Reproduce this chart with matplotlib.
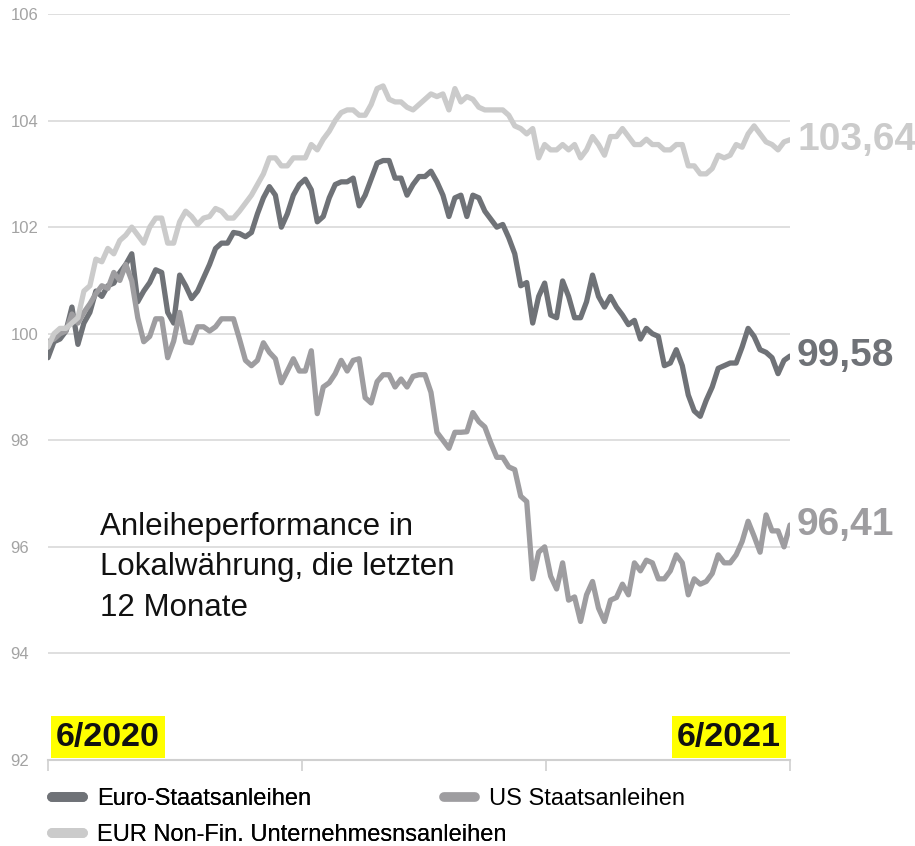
import matplotlib
matplotlib.use("Agg")
import matplotlib.pyplot as plt
from matplotlib.lines import Line2D
import numpy as np

plt.rcParams['font.family'] = ['Liberation Sans', 'DejaVu Sans']

# index performance, one value roughly every 3 days, 6/2020 .. 6/2021
euro_staat = [
    99.55, 99.85, 99.9, 100.05, 100.5, 99.8, 100.2, 100.4, 100.8, 100.7,
    100.9, 100.95, 101.15, 101.3, 101.5, 100.6, 100.8, 100.96, 101.2, 101.15,
    100.4, 100.2, 101.1, 100.9, 100.66, 100.8, 101.05, 101.3, 101.6, 101.7,
    101.7, 101.9, 101.88, 101.82, 101.9, 102.25, 102.55, 102.76, 102.6, 102.0,
    102.25, 102.6, 102.8,
    102.9, 102.7, 102.1, 102.2, 102.55, 102.8, 102.85, 102.85, 102.92, 102.4,
    102.6, 102.9, 103.2, 103.25, 103.25, 102.92, 102.92, 102.6, 102.8, 102.95,
    102.95, 103.05, 102.85, 102.6, 102.2, 102.55, 102.6, 102.2, 102.6, 102.55,
    102.3, 102.15, 102.0, 102.05, 101.8, 101.5, 100.9, 100.96, 100.2, 100.7,
    100.95, 100.35,
    100.3, 100.99, 100.7, 100.3, 100.3, 100.6, 101.1, 100.7, 100.5, 100.7,
    100.5, 100.35, 100.17, 100.25, 99.9, 100.1, 100.0, 99.95, 99.4, 99.45,
    99.7, 99.4, 98.85, 98.55, 98.45, 98.75, 99.0, 99.35, 99.4, 99.45,
    99.45, 99.75, 100.1, 99.95, 99.7, 99.65, 99.55, 99.25, 99.5, 99.58,
]

us_staat = [
    99.85, 99.9, 100.0, 100.05, 100.37, 100.2, 100.4, 100.56, 100.75, 100.9,
    100.85, 101.15, 101.0, 101.3, 100.99, 100.3, 99.85, 99.95, 100.28, 100.28,
    99.55, 99.86, 100.4, 99.85, 99.83, 100.13, 100.13, 100.05, 100.13, 100.28,
    100.28, 100.28, 99.9, 99.5, 99.4, 99.5, 99.83, 99.65, 99.53, 99.08,
    99.3, 99.53, 99.3,
    99.3, 99.68, 98.5, 99.0, 99.08, 99.25, 99.5, 99.3, 99.5, 99.53,
    98.8, 98.7, 99.1, 99.23, 99.23, 99.0, 99.15, 99.0, 99.2, 99.23,
    99.23, 98.9, 98.15, 98.0, 97.85, 98.15, 98.15, 98.16, 98.52, 98.35,
    98.25, 97.95, 97.68, 97.68, 97.5, 97.45, 96.95, 96.85, 95.4, 95.9,
    96.0, 95.45,
    95.21, 95.7, 95.0, 95.06, 94.6, 95.1, 95.35, 94.85, 94.6, 95.0,
    95.05, 95.3, 95.1, 95.7, 95.55, 95.75, 95.7, 95.4, 95.4, 95.55,
    95.85, 95.7, 95.1, 95.4, 95.3, 95.35, 95.5, 95.85, 95.7, 95.7,
    95.85, 96.1, 96.48, 96.2, 95.9, 96.6, 96.3, 96.3, 96.0, 96.41,
]

eur_nonfin = [
    99.75, 100.0, 100.1, 100.1, 100.2, 100.3, 100.8, 100.9, 101.4, 101.35,
    101.6, 101.5, 101.75, 101.85, 102.0, 101.85, 101.7, 102.0, 102.17, 102.17,
    101.7, 101.7, 102.1, 102.3, 102.2, 102.05, 102.17, 102.2, 102.35, 102.3,
    102.17, 102.17, 102.3, 102.45, 102.6, 102.8, 103.0, 103.3, 103.3, 103.15,
    103.15, 103.3, 103.3,
    103.3, 103.55, 103.45, 103.65, 103.8, 104.0, 104.15, 104.2, 104.2, 104.1,
    104.1, 104.3, 104.6, 104.65, 104.4, 104.35, 104.35, 104.25, 104.2, 104.3,
    104.4, 104.5, 104.45, 104.5, 104.2, 104.6, 104.35, 104.45, 104.4, 104.25,
    104.2, 104.2, 104.2, 104.2, 104.1, 103.9, 103.85, 103.75, 103.85, 103.3,
    103.55, 103.45,
    103.45, 103.55, 103.45, 103.55, 103.3, 103.45, 103.7, 103.55, 103.35, 103.7,
    103.7, 103.85, 103.7, 103.55, 103.55, 103.65, 103.55, 103.55, 103.45, 103.45,
    103.55, 103.55, 103.15, 103.15, 103.0, 103.0, 103.1, 103.35, 103.3, 103.35,
    103.55, 103.5, 103.75, 103.9, 103.75, 103.6, 103.55, 103.45, 103.6, 103.64,
]

labels = ['Euro-Staatsanleihen', 'US Staatsanleihen', 'EUR Non-Fin. Unternehmesnsanleihen']
colors = ['#6f7277', '#9e9da0', '#cbcbcb']
start_label, end_label = '6/2020', '6/2021'
x_ticks = [0, 42.4, 83.2, 124]   # quarter-ish ticks on the time axis
y_ticks = list(range(92, 107, 2))

W, H = 915, 846
fig = plt.figure(figsize=(W / 100, H / 100), dpi=100)
ax = fig.add_axes([48 / W, 1 - 760 / H, 742 / W, 746 / H])

x = np.arange(len(euro_staat))
series = [euro_staat, us_staat, eur_nonfin]
for vals, c, lab in zip(series, colors, labels):
    ax.plot(x, vals, color=c, lw=3.8, solid_joinstyle='round', solid_capstyle='round', label=lab, zorder=3)
    ax.annotate(f'{vals[-1]:.2f}'.replace('.', ','), xy=(x[-1], vals[-1]), xytext=(7, 0),
                textcoords='offset pixels', va='center', ha='left', fontsize=28,
                fontweight='bold', color=c, annotation_clip=False)

ax.set_xlim(0, 124)
ax.set_ylim(92, 106)
ax.set_yticks(y_ticks)
ax.set_xticks(x_ticks)
ax.set_xticklabels([])
ax.yaxis.grid(True, color='#d6d6d6', lw=1.1, zorder=0)
for s in ['left', 'right', 'top']:
    ax.spines[s].set_visible(False)
ax.spines['bottom'].set_color('#d0d0d0')
ax.spines['bottom'].set_linewidth(1.5)
ax.tick_params(axis='x', length=8, width=1.2, color='#d0d0d0')
ax.tick_params(axis='y', length=0, pad=27, labelsize=12, labelcolor='#a3a3a3')
for t in ax.get_yticklabels():
    t.set_horizontalalignment('left')

box = dict(facecolor='#ffff00', edgecolor='none', pad=4)
fig.text(56 / W, 1 - 737 / H, start_label, ha='left', va='center', fontsize=24.5,
         fontweight='bold', color='#111111', bbox=box)
fig.text(781 / W, 1 - 737 / H, end_label, ha='right', va='center', fontsize=24.5,
         fontweight='bold', color='#111111', bbox=box)

fig.text(100 / W, 1 - 512 / H, 'Anleiheperformance in\nLokalwährung, die letzten\n12 Monate',
         ha='left', va='top', fontsize=22.5, linespacing=1.45, color='#111111')

handles = [Line2D([], [], color=c, lw=7, solid_capstyle='round') for c in colors]
leg_kw = dict(frameon=False, fontsize=17, handlelength=1.3, handletextpad=0.62,
              borderpad=0, borderaxespad=0, labelspacing=0.6, loc='upper left',
              bbox_transform=fig.transFigure)
leg1 = fig.legend([handles[0], handles[2]], [labels[0], labels[2]],
                  bbox_to_anchor=(52 / W, 1 - 788 / H), **leg_kw)
fig.add_artist(leg1)
fig.legend([handles[1]], [labels[1]], bbox_to_anchor=(444 / W, 1 - 788 / H), **leg_kw)

fig.savefig('out.png', dpi=100, facecolor='white')
